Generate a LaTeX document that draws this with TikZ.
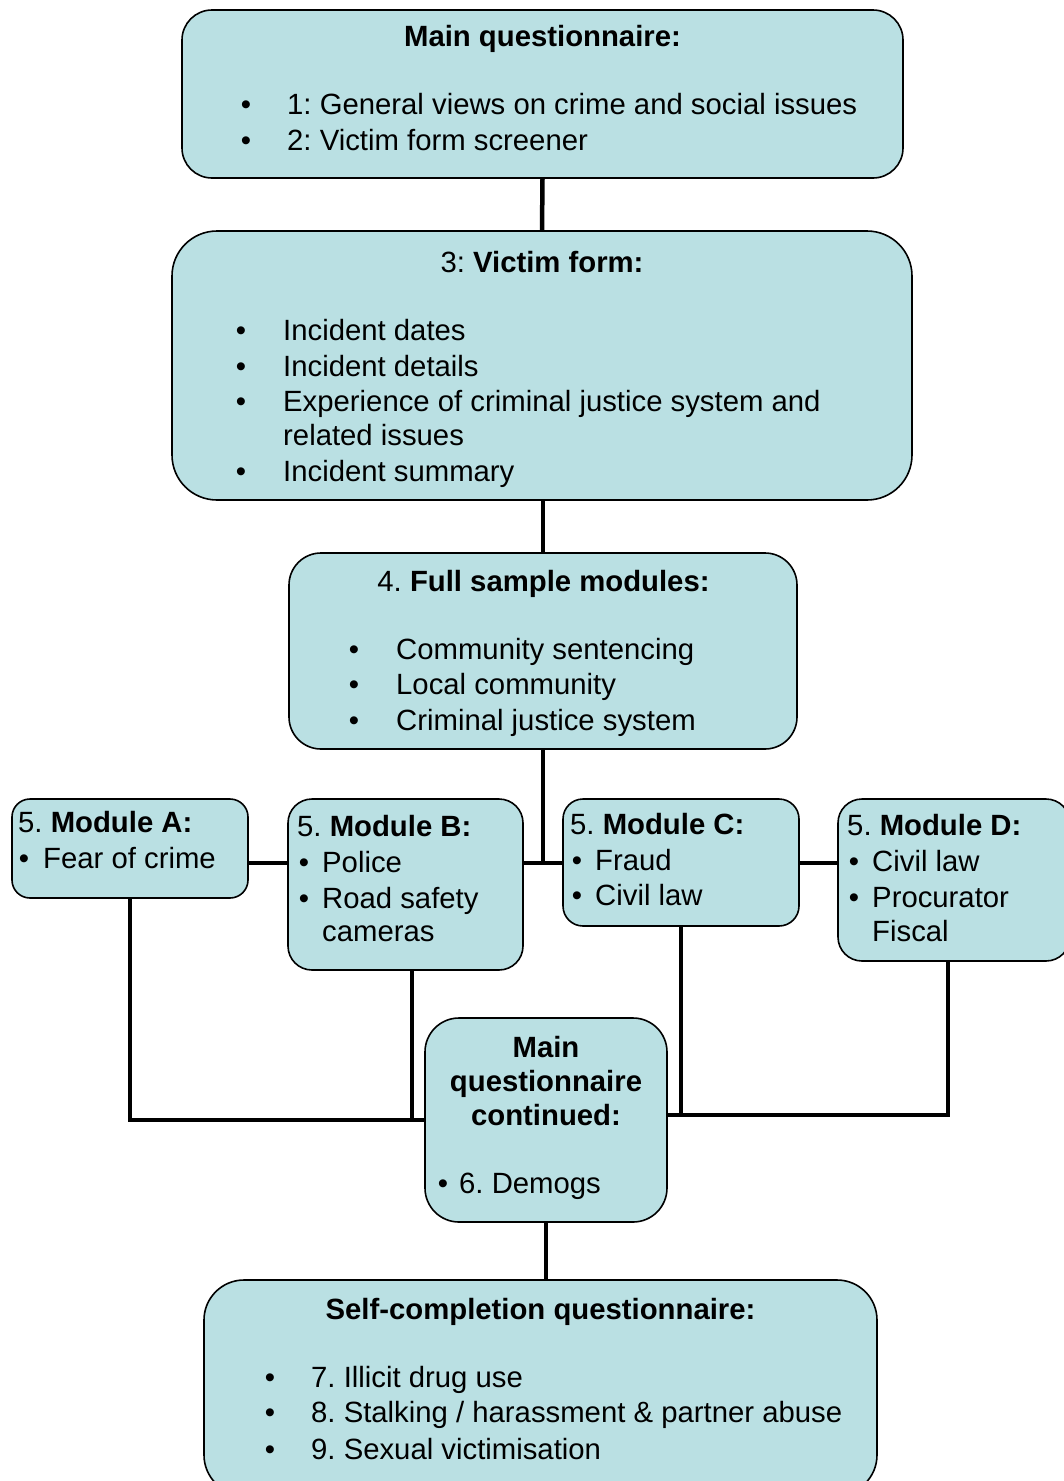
\documentclass[tikz,border=0pt]{standalone}
\usepackage{fontspec}
\setmainfont{Liberation Sans}
\frenchspacing
\definecolor{boxfill}{RGB}{186,224,227}
\begin{document}
\begin{tikzpicture}[x=1pt,y=-1pt,
  box/.style={draw=black,line width=1.6pt,fill=boxfill,inner sep=0pt},
  txt/.style={inner sep=0pt,font=\fontsize{29.3}{36}\selectfont},
  conn/.style={draw=black,line width=4.5pt}]
\fill[white] (0,0) rectangle (1064,1481);
\useasboundingbox (0,0) rectangle (1064,1481);

% boxes
\node[box,rounded corners=30pt,minimum width=721pt,minimum height=168pt] (q1) at (542.5,94) {};
\node[box,rounded corners=45pt,minimum width=740pt,minimum height=269pt] (vf) at (542,365.5) {};
\node[box,rounded corners=32pt,minimum width=508pt,minimum height=196pt] (fs) at (543,651) {};
\node[box,rounded corners=18pt,minimum width=236pt,minimum height=99pt] (ma) at (130,848.5) {};
\node[box,rounded corners=24pt,minimum width=235pt,minimum height=171pt] (mb) at (405.5,884.5) {};
\node[box,rounded corners=20pt,minimum width=236pt,minimum height=127pt] (mc) at (681,862.5) {};
\node[box,rounded corners=24pt,minimum width=232pt,minimum height=162pt] (md) at (954,880) {};
\node[box,rounded corners=34pt,minimum width=242pt,minimum height=204pt] (qc) at (546,1120) {};
\node[box,rounded corners=40pt,minimum width=673pt,minimum height=215pt] (sc) at (540.5,1387.5) {};

% box 1 text
\node[txt,anchor=base] (q1t) at (542.5,46) {\textbf{Main questionnaire:}};
\node[txt,anchor=base] (q1b1) at (246,114) {•};
\node[txt,anchor=base west] (q1l1) at (287,114) {1: General views on crime and social issues};
\node[txt,anchor=base] (q1b2) at (246,150) {•};
\node[txt,anchor=base west] (q1l2) at (287,150) {2: Victim form screener};

% box 2 text
\node[txt,anchor=base] (vft) at (542,272) {3: \textbf{Victim form:}};
\node[txt,anchor=base] (vfb1) at (241,340) {•};
\node[txt,anchor=base west] (vfl1) at (283,340) {Incident dates};
\node[txt,anchor=base] (vfb2) at (241,376) {•};
\node[txt,anchor=base west] (vfl2) at (283,376) {Incident details};
\node[txt,anchor=base] (vfb3) at (241,411) {•};
\node[txt,anchor=base west] (vfl3) at (283,411) {Experience of criminal justice system and};
\node[txt,anchor=base west] (vfl3b) at (283,445) {related issues};
\node[txt,anchor=base] (vfb4) at (241,481) {•};
\node[txt,anchor=base west] (vfl4) at (283,481) {Incident summary};

% box 3 text
\node[txt,anchor=base] (fst) at (543.5,591) {4. \textbf{Full sample modules:}};
\node[txt,anchor=base] (fsb1) at (354,659) {•};
\node[txt,anchor=base west] (fsl1) at (396,659) {Community sentencing};
\node[txt,anchor=base] (fsb2) at (354,694) {•};
\node[txt,anchor=base west] (fsl2) at (396,694) {Local community};
\node[txt,anchor=base] (fsb3) at (354,730) {•};
\node[txt,anchor=base west] (fsl3) at (396,730) {Criminal justice system};

% module A
\node[txt,anchor=base west] (mat) at (18,832) {5. \textbf{Module A:}};
\node[txt,anchor=base] (mab1) at (24,868) {•};
\node[txt,anchor=base west] (mal1) at (43,868) {Fear of crime};

% module B
\node[txt,anchor=base west] (mbt) at (297,836) {5. \textbf{Module B:}};
\node[txt,anchor=base] (mbb1) at (304,872) {•};
\node[txt,anchor=base west] (mbl1) at (322,872) {Police};
\node[txt,anchor=base] (mbb2) at (304,908) {•};
\node[txt,anchor=base west] (mbl2) at (322,908) {Road safety};
\node[txt,anchor=base west] (mbl2b) at (322,941) {cameras};

% module C
\node[txt,anchor=base west] (mct) at (570,834) {5. \textbf{Module C:}};
\node[txt,anchor=base] (mcb1) at (577,870) {•};
\node[txt,anchor=base west] (mcl1) at (595,870) {Fraud};
\node[txt,anchor=base] (mcb2) at (577,905) {•};
\node[txt,anchor=base west] (mcl2) at (595,905) {Civil law};

% module D
\node[txt,anchor=base west] (mdt) at (847,835) {5. \textbf{Module D:}};
\node[txt,anchor=base] (mdb1) at (854,871) {•};
\node[txt,anchor=base west] (mdl1) at (872,871) {Civil law};
\node[txt,anchor=base] (mdb2) at (854,907) {•};
\node[txt,anchor=base west] (mdl2) at (872,907) {Procurator};
\node[txt,anchor=base west] (mdl2b) at (872,941) {Fiscal};

% main questionnaire continued
\node[txt,anchor=base] (qct1) at (546,1057) {\textbf{Main}};
\node[txt,anchor=base] (qct2) at (546,1091) {\textbf{questionnaire}};
\node[txt,anchor=base] (qct3) at (546,1125) {\textbf{continued:}};
\node[txt,anchor=base] (qcb1) at (443,1193) {•};
\node[txt,anchor=base west] (qcl1) at (459,1193) {6. Demogs};

% self-completion
\node[txt,anchor=base] (sct) at (540.5,1319) {\textbf{Self-completion questionnaire:}};
\node[txt,anchor=base] (scb1) at (270,1387) {•};
\node[txt,anchor=base west] (scl1) at (311,1387) {7. Illicit drug use};
\node[txt,anchor=base] (scb2) at (270,1422) {•};
\node[txt,anchor=base west] (scl2) at (311,1422) {8. Stalking / harassment \& partner abuse};
\node[txt,anchor=base] (scb3) at (270,1459) {•};
\node[txt,anchor=base west] (scl3) at (311,1459) {9. Sexual victimisation};

% connectors
\coordinate (h) at (0,863);
\coordinate (hl) at (0,1120);
\coordinate (hr) at (0,1115);
\draw[conn] (q1.south) -- (vf.north);
\draw[conn] (vf.south -| fs.north) -- (fs.north);
\draw[conn] (fs.south) -- (fs.south |- h);
\draw[conn] (ma.east |- h) -- (mb.west |- h);
\draw[conn] (mb.east |- h) -- (mc.west |- h);
\draw[conn] (mc.east |- h) -- (md.west |- h);
\draw[conn] (ma.south) -- (ma.south |- hl) -- (qc.west |- hl);
\draw[conn,line width=3.5pt] ([xshift=6.5pt]mb.south) -- ([xshift=6.5pt]mb.south |- hl);
\draw[conn] (mc.south) -- (mc.south |- hr);
\draw[conn] ([xshift=-6pt]md.south) -- ([xshift=-6pt]md.south |- hr) -- (qc.east |- hr);
\draw[conn] (qc.south) -- (sc.north -| qc.south);
\end{tikzpicture}
\end{document}
